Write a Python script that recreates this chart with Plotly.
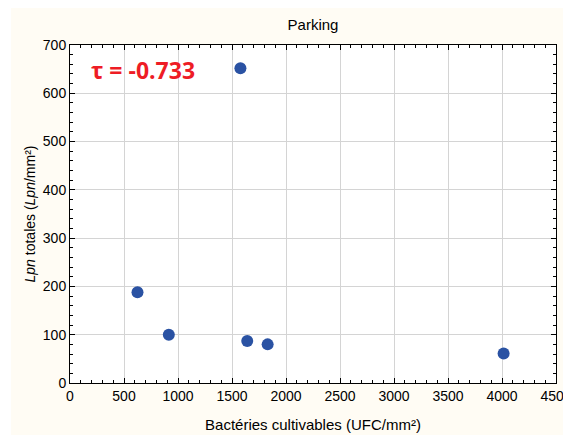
import plotly.graph_objects as go

# Parking: culturable bacteria vs total Lpn
bacteries = [625, 915, 1578, 1641, 1830, 4015]
lpn = [188, 100, 652, 87, 80, 61]
tau_label = "τ = -0.733"

x_ticks = [0, 500, 1000, 1500, 2000, 2500, 3000, 3500, 4000, 4500]
y_ticks = [0, 100, 200, 300, 400, 500, 600, 700]

cream = '#fffcf4'

fig = go.Figure()
fig.add_trace(go.Scatter(
    x=bacteries, y=lpn, mode='markers',
    marker=dict(size=12, color='#2a52a3'),
    showlegend=False
))

axis_style = dict(
    showline=True, linecolor='black', linewidth=1, mirror='ticks',
    ticks='inside', ticklen=5, tickcolor='black',
    showgrid=True, gridcolor='#d4d4d4', gridwidth=1,
    zeroline=False, automargin=False, ticklabeloverflow='allow',
    tickfont=dict(family='Liberation Sans, Arial', size=14, color='black'),
)

fig.update_xaxes(
    range=[0, 4500], tickvals=x_ticks,
    minor=dict(dtick=100, ticks='inside', ticklen=3, tickcolor='black', showgrid=False),
    title=dict(text='Bactéries cultivables (UFC/mm²)', standoff=16,
               font=dict(family='Liberation Sans, Arial', size=15, color='black')),
    **axis_style
)
fig.update_yaxes(
    range=[0, 700], tickvals=y_ticks,
    minor=dict(dtick=20, ticks='inside', ticklen=3, tickcolor='black', showgrid=False),
    title=dict(text='<i>Lpn</i> totales (<i>Lpn</i>/mm²)', standoff=3,
               font=dict(family='Liberation Sans, Arial', size=14, color='black')),
    **axis_style
)

fig.add_annotation(
    x=0.04, y=0.925, xref='paper', yref='paper', xanchor='left', yanchor='middle',
    text='<b>' + tau_label + '</b>', showarrow=False,
    font=dict(family='Open Sans, Noto Sans', size=23, color='#ee1c25')
)

# page body has an 8px margin, so the figure sits 8px in; white strip on the left
fig.add_shape(type='rect', xref='paper', yref='paper', x0=-0.2, x1=-0.1214, y0=-0.3, y1=1.2,
              fillcolor='white', line_width=0, layer='below')

fig.update_layout(
    title=dict(text='Parking', x=0.5, xref='paper', y=1 - 17 / 427, yanchor='middle',
               font=dict(family='Liberation Sans, Arial', size=15, color='black')),
    width=563, height=427,
    margin=dict(l=62, r=15, t=37, b=52),
    plot_bgcolor='white', paper_bgcolor=cream,
)

fig.write_html("out.html")
